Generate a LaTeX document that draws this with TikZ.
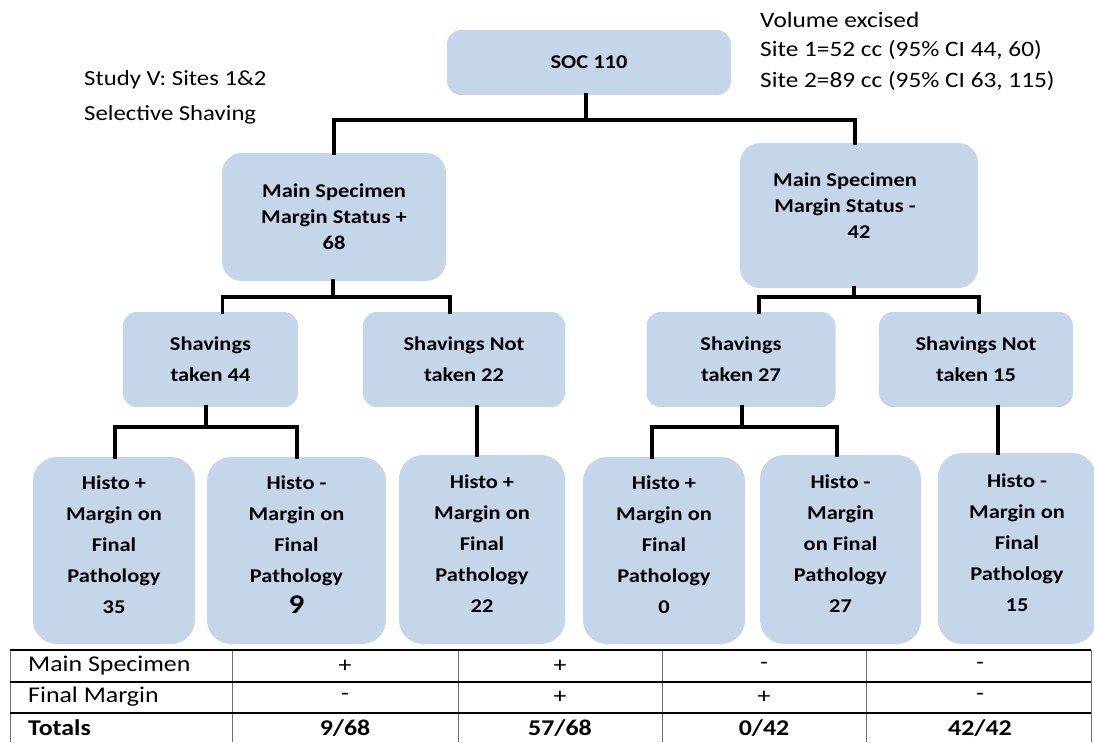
\documentclass[tikz,border=0pt]{standalone}
\usepackage{fontspec}
\setmainfont{Carlito}[FakeStretch=1.15]
\usetikzlibrary{calc}
\definecolor{boxblue}{RGB}{197,214,235}
\definecolor{gridgray}{RGB}{110,110,110}
\begin{document}
\begin{tikzpicture}[x=1pt,y=-1pt,
  box/.style={fill=boxblue,draw=none,rounded corners=14pt,align=center,inner sep=0pt,
    font=\bfseries\fontsize{19.5}{26}\selectfont},
  shav/.style={box,font=\bfseries\fontsize{19.5}{31}\selectfont},
  histo/.style={box,rounded corners=24pt,font=\bfseries\fontsize{19.5}{31}\selectfont},
  conn/.style={line width=3.6pt,line cap=rect},
  note/.style={anchor=west,inner sep=0pt,font=\fontsize{22}{30}\selectfont},
  tcell/.style={inner sep=0pt,font=\fontsize{22.5}{26}\selectfont},
  tbold/.style={inner sep=0pt,font=\bfseries\fontsize{22.5}{26}\selectfont},
  hline/.style={line width=1.8pt},
  vline/.style={line width=0.9pt,draw=gridgray}]
\useasboundingbox (0,0) rectangle (1094,742);

% notes
\node[note,font=\fontsize{21.5}{30}\selectfont] (n1) at (84,80) {Study V: Sites 1\&2};
\node[note,font=\fontsize{21.5}{30}\selectfont] (n2) at (84,115) {Selective Shaving};
\node[note] (v1) at (760,20) {Volume excised};
\node[note] (v2) at (760,50) {Site 1=52 cc (95\% CI 44, 60)};
\node[note] (v3) at (760,81) {Site 2=89 cc (95\% CI 63, 115)};

% boxes
\node[box,minimum width=284pt,minimum height=65pt] (soc) at (589,62.5) {SOC 110};
\node[box,rounded corners=20pt,minimum width=224pt,minimum height=128pt] (lm) at (334,217) {Main Specimen\\Margin Status +\\68};
\node[box,rounded corners=20pt,minimum width=238pt,minimum height=145pt] (rm) at (859,215.5) {\hspace*{-28pt}Main Specimen\\\hspace*{-28pt}Margin Status -\\42\\[-6pt]\mbox{}};

\node[shav,minimum width=175pt,minimum height=95pt] (sh1) at (210.5,359.5) {Shavings\\taken 44};
\node[shav,minimum width=202pt,minimum height=95pt] (sh2) at (464,359.5) {Shavings Not\\taken 22};
\node[shav,minimum width=189pt,minimum height=95pt] (sh3) at (741,359.5) {Shavings\\taken 27};
\node[shav,minimum width=194pt,minimum height=95pt] (sh4) at (976,359.5) {Shavings Not\\taken 15};

\node[histo,minimum width=162pt,minimum height=187pt] (h1) at (114,550.5) {Histo +\\Margin on\\Final\\Pathology\\35\\[-19pt]\mbox{}};
\node[histo,minimum width=179pt,minimum height=187pt] (h2) at (296.5,550.5) {Histo -\\Margin on\\Final\\Pathology\\{\fontsize{27}{31}\selectfont 9}\\[-19pt]\mbox{}};
\node[histo,minimum width=166pt,minimum height=189pt] (h3) at (482,549.5) {Histo +\\Margin on\\Final\\Pathology\\22\\[-19pt]\mbox{}};
\node[histo,minimum width=162pt,minimum height=187pt] (h4) at (664,550.5) {Histo +\\Margin on\\Final\\Pathology\\0\\[-19pt]\mbox{}};
\node[histo,minimum width=161pt,minimum height=189pt] (h5) at (840.5,549.5) {Histo -\\Margin\\on Final\\Pathology\\27\\[-19pt]\mbox{}};
\node[histo,minimum width=158pt,minimum height=191pt] (h6) at (1017,548.5) {Histo -\\Margin on\\Final\\Pathology\\15\\[-19pt]\mbox{}};

% connectors
\draw[conn] ([xshift=-3pt]soc.south) -- ++(0,25) -| (lm.north);
\draw[conn] ([xshift=-3pt]soc.south) -- ++(0,25) -| ([xshift=-4pt]rm.north);
\draw[conn] ([xshift=-1pt]lm.south) -- ++(0,16) -| ([xshift=12pt]sh1.north);
\draw[conn] ([xshift=-1pt]lm.south) -- ++(0,16) -| ([xshift=-14pt]sh2.north);
\draw[conn] ([xshift=-5pt]rm.south) -- ++(0,9) -| ([xshift=18pt]sh3.north);
\draw[conn] ([xshift=-5pt]rm.south) -- ++(0,9) -| ([xshift=3pt]sh4.north);
\draw[conn] ([xshift=-4.5pt]sh1.south) -- ++(0,20) -| ([xshift=1pt]h1.north);
\draw[conn] ([xshift=-4.5pt]sh1.south) -- ++(0,20) -| ([xshift=0.5pt]h2.north);
\draw[conn] ([xshift=13pt]sh2.south) -- ([xshift=-5pt]h3.north);
\draw[conn] ([xshift=1pt]sh3.south) -- ++(0,20) -| ([xshift=-12pt]h4.north);
\draw[conn] ([xshift=1pt]sh3.south) -- ++(0,20) -| ([xshift=-3.5pt]h5.north);
\draw[conn] ([xshift=22pt]sh4.south) -- ([xshift=-19pt]h6.north);

% table
\foreach \x in {10,232,458,662,866,1091} \draw[vline] (\x,650) -- (\x,742);
\draw[hline] (10,650) -- (1091,650);
\draw[hline] (10,682) -- (1091,682);
\draw[hline] (10,713) -- (1091,713);

\node[tcell,anchor=west] (r1) at (28,666) {Main Specimen};
\node[tcell,anchor=west] (r2) at (28,697) {Final Margin};
\node[tbold,anchor=west] (r3) at (28,728) {Totals};
\node[tcell] (c11) at (345,666) {+};
\node[tcell] (c12) at (560,666) {+};
\node[tcell] (c13) at (764,666) {-};
\node[tcell] (c14) at (980,666) {-};
\node[tcell] (c21) at (345,697) {-};
\node[tcell] (c22) at (560,697) {+};
\node[tcell] (c23) at (764,697) {+};
\node[tcell] (c24) at (980,697) {-};
\node[tbold] (c31) at (345,728) {9/68};
\node[tbold] (c32) at (560,728) {57/68};
\node[tbold] (c33) at (764,728) {0/42};
\node[tbold] (c34) at (980,728) {42/42};
\end{tikzpicture}
\end{document}
